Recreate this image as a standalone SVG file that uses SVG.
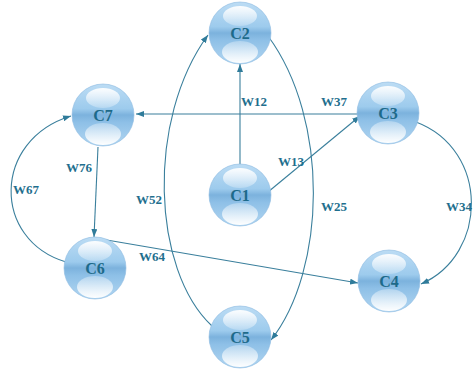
<svg xmlns="http://www.w3.org/2000/svg" xmlns:xlink="http://www.w3.org/1999/xlink" width="474" height="376" viewBox="0 0 474 376">
<style>
.edge{fill:none;stroke:#3a7f9c;stroke-width:1.1}
.lbl{font-family:"Liberation Serif",serif;font-weight:bold;font-size:13px;fill:#1f6f8e;text-anchor:middle}
.nl{font-family:"Liberation Serif",serif;font-weight:bold;font-size:16px;fill:#1d6a8a;text-anchor:middle}
</style>
<defs>
<linearGradient id="body" x1="0" y1="0" x2="0" y2="1">
<stop offset="0" stop-color="#bcdcf4"/>
<stop offset="0.4" stop-color="#9dcbed"/>
<stop offset="0.5" stop-color="#7cb2dd"/>
<stop offset="0.62" stop-color="#8ec0e7"/>
<stop offset="1" stop-color="#b2d6f1"/>
</linearGradient>
<linearGradient id="hiTop" x1="0" y1="0" x2="0" y2="1">
<stop offset="0" stop-color="#ffffff" stop-opacity="0.95"/>
<stop offset="1" stop-color="#ffffff" stop-opacity="0.25"/>
</linearGradient>
<linearGradient id="hiBot" x1="0" y1="0" x2="0" y2="1">
<stop offset="0" stop-color="#ffffff" stop-opacity="0.3"/>
<stop offset="1" stop-color="#ffffff" stop-opacity="0.97"/>
</linearGradient>
<g id="sphere">
<circle r="31" fill="url(#body)" stroke="#8dbbe0" stroke-width="0.6"/>
<ellipse cx="0" cy="-17" rx="17" ry="10" fill="url(#hiTop)"/>
<ellipse cx="0" cy="19" rx="18" ry="11" fill="url(#hiBot)"/>
</g>
<marker id="arr" viewBox="0 0 8 6" refX="8" refY="3" markerWidth="8" markerHeight="6" markerUnits="userSpaceOnUse" orient="auto">
<path d="M0,0 L8,3 L0,6 z" fill="#2f7b9a"/>
</marker>
</defs>
<rect width="474" height="376" fill="#ffffff"/>
<g id="connectors">
<path class="edge" d="M240,165 L240,64" marker-end="url(#arr)"/>
<path class="edge" d="M268,192 L360,116" marker-end="url(#arr)"/>
<path class="edge" d="M358,114 L136,114" marker-end="url(#arr)"/>
<path class="edge" d="M98,147 L94,237" marker-end="url(#arr)"/>
<path class="edge" d="M66,262 C-8,240 -8,140 71,116" marker-end="url(#arr)"/>
<path class="edge" d="M95,238 L358,283" marker-end="url(#arr)"/>
<path class="edge" d="M416,122 C490,150 488,255 421,284" marker-end="url(#arr)"/>
<path class="edge" d="M212,326 C152,270 146,120 208,35" marker-end="url(#arr)"/>
<path class="edge" d="M268,36 C330,120 326,270 271,340" marker-end="url(#arr)"/>
</g>
<g id="edge-labels">
<text class="lbl" x="254" y="106">W12</text>
<text class="lbl" x="334" y="106">W37</text>
<text class="lbl" x="291" y="166">W13</text>
<text class="lbl" x="79" y="172">W76</text>
<text class="lbl" x="26" y="194">W67</text>
<text class="lbl" x="149" y="204">W52</text>
<text class="lbl" x="334" y="211">W25</text>
<text class="lbl" x="459" y="211">W34</text>
<text class="lbl" x="152" y="261">W64</text>
</g>
<g id="C2"><use xlink:href="#sphere" x="240" y="33"/><text class="nl" x="240" y="39">C2</text></g>
<g id="C7"><use xlink:href="#sphere" x="103" y="115"/><text class="nl" x="103" y="121">C7</text></g>
<g id="C3"><use xlink:href="#sphere" x="388" y="113"/><text class="nl" x="388" y="119">C3</text></g>
<g id="C1"><use xlink:href="#sphere" x="240" y="195"/><text class="nl" x="240" y="201">C1</text></g>
<g id="C6"><use xlink:href="#sphere" x="95" y="268"/><text class="nl" x="95" y="274">C6</text></g>
<g id="C4"><use xlink:href="#sphere" x="389" y="281"/><text class="nl" x="389" y="287">C4</text></g>
<g id="C5"><use xlink:href="#sphere" x="240" y="337"/><text class="nl" x="240" y="343">C5</text></g>
</svg>
